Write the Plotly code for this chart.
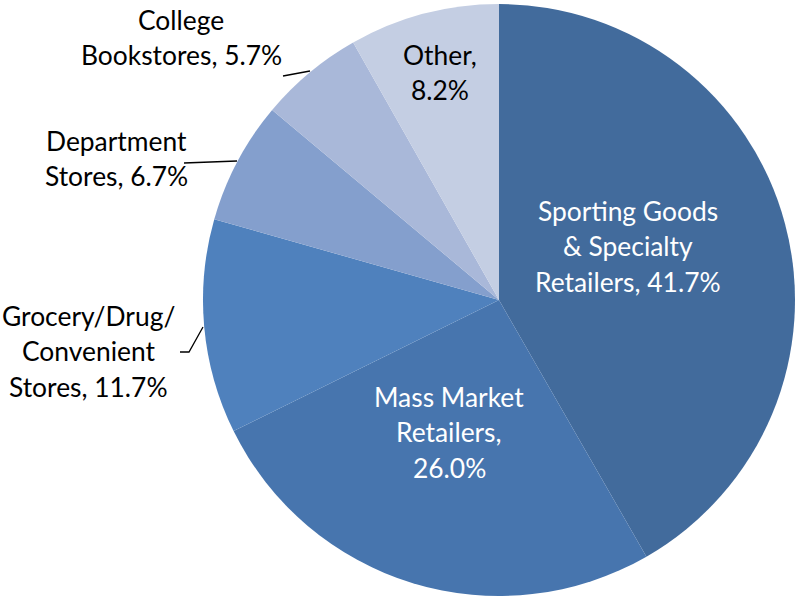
import plotly.graph_objects as go

categories = ["Sporting Goods & Specialty Retailers", "Mass Market Retailers",
              "Grocery/Drug/ Convenient Stores", "Department Stores",
              "College Bookstores", "Other"]
shares = [41.7, 26.0, 11.7, 6.7, 5.7, 8.2]
colors = ["#426B9C", "#4775AE", "#4F81BD", "#849FCD", "#A9B8D9", "#C4CEE3"]

W, H = 797, 600
FONT = "Lato"
FS = 26.4

fig = go.Figure(go.Pie(
    labels=categories, values=shares, sort=False, direction="clockwise",
    rotation=0, textinfo="none", hoverinfo="label+percent",
    marker=dict(colors=colors, line=dict(width=0)),
    domain=dict(x=[203 / W, 795 / W], y=[1 - 596 / H, 1 - 4 / H]),
    showlegend=False,
))

def px(x):
    return x / W

def py(y):
    return 1 - y / H

# label blocks: (lines, center x, first line center y, color)
label_blocks = [
    (["Sporting Goods", "& Specialty", "Retailers, %.1f%%" % shares[0]], 628, 211, "white"),
    (["Mass Market", "Retailers,", "%.1f%%" % shares[1]], 449, 397, "white"),
    (["Grocery/Drug/", "Convenient", "Stores, %.1f%%" % shares[2]], 88, 316, "black"),
    (["Department", "Stores, %.1f%%" % shares[3]], 117, 141, "black"),
    (["College", "Bookstores, %.1f%%" % shares[4]], 181, 20, "black"),
    (["Other,", "%.1f%%" % shares[5]], 440, 55, "black"),
]
LS = 35.3
anns = []
for lines, cx, cy, col in label_blocks:
    for i, t in enumerate(lines):
        anns.append(dict(text=t, x=px(cx), y=py(cy + i * LS), xref="paper", yref="paper",
                         xanchor="center", yanchor="middle", showarrow=False,
                         font=dict(family=FONT, size=FS, color=col)))

leaders = [
    [(180, 352), (189, 352), (203, 327)],
    [(184, 163), (237, 161)],
    [(283, 76), (310, 71)],
]
shapes = []
for pts in leaders:
    path = "M " + " L ".join("%f,%f" % (px(x), py(y)) for x, y in pts)
    shapes.append(dict(type="path", path=path, xref="paper", yref="paper",
                       line=dict(color="black", width=1.3)))

fig.update_layout(width=W, height=H, margin=dict(l=0, r=0, t=0, b=0),
                  paper_bgcolor="white", plot_bgcolor="white",
                  annotations=anns, shapes=shapes)
fig.write_html("out.html", config={"displayModeBar": False},
               post_script="document.body.style.margin='0';")
